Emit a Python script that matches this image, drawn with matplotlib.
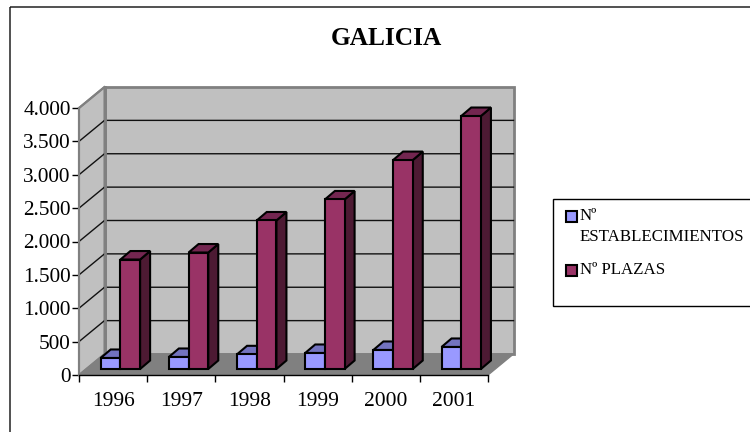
import matplotlib
matplotlib.use("Agg")
import matplotlib.pyplot as plt
from matplotlib.patches import Polygon, Rectangle

years = ["1996", "1997", "1998", "1999", "2000", "2001"]
establecimientos = [165, 180, 220, 240, 285, 330]
plazas = [1640, 1745, 2225, 2540, 3130, 3790]
ytick_labels = ["0", "500", "1.000", "1.500", "2.000", "2.500", "3.000", "3.500", "4.000"]
yticks = [0, 500, 1000, 1500, 2000, 2500, 3000, 3500, 4000]

W, H = 750, 432
plt.rcParams["font.family"] = ["Liberation Serif", "DejaVu Serif"]
fig = plt.figure(figsize=(W / 100, H / 100), dpi=100, facecolor="white")


def px_rect(l, t, r, b):
    return [l / W, 1 - b / H, (r - l) / W, (b - t) / H]


# overlay in pixel coordinates for chart-area frame and legend box
ov = fig.add_axes([0, 0, 1, 1], zorder=0)
ov.set_xlim(0, W)
ov.set_ylim(H, 0)
ov.axis("off")
ov.add_patch(Rectangle((9.5, 6.5), 760, 440, fill=False, ec="#222222", lw=1.1, clip_on=True))

# front plane of the pseudo-3D plot
L, T, R, B = 79, 108, 488, 375
ax = fig.add_axes(px_rect(L, T, R, B), zorder=1)
ax.set_xlim(0, 6)
ax.set_ylim(0, 4000)
ax.patch.set_alpha(0)
for s in ["top", "right", "left"]:
    ax.spines[s].set_visible(False)
ax.spines["bottom"].set_color("black")
ax.spines["bottom"].set_linewidth(1.0)

ux = 6 / (R - L)      # data units per pixel
uy = 4000 / (B - T)
DX, DY = 25.5 * ux, 21 * uy   # wall depth
BDX, BDY = 10 * ux, 8.5 * uy  # bar depth
OX, OY = 7.5 * ux, 6 * uy     # bar offset from the front plane
BW = 19.7 * ux

GRAY, WALL, FLOOR = "#C0C0C0", "#C0C0C0", "#808080"
EDGE = "#808080"


def poly(pts, fc, ec, lw=1.0, z=2):
    ax.add_patch(Polygon(pts, closed=True, fc=fc, ec=ec, lw=lw, zorder=z, clip_on=False, joinstyle="miter"))


# walls and floor
poly([(DX, DY), (6 + DX, DY), (6 + DX, 4000 + DY), (DX, 4000 + DY)], GRAY, EDGE, 2.0, 1)
poly([(0, 0), (DX, DY), (DX, 4000 + DY), (0, 4000)], WALL, EDGE, 1.5, 1)
poly([(0, 0), (6, 0), (6 + DX, DY), (DX, DY)], FLOOR, FLOOR, 1.0, 1)
for v in yticks[1:-1]:
    ax.plot([0, DX, 6 + DX], [v, v + DY, v + DY], color="#111111", lw=1.0, zorder=1.5, clip_on=False)
ax.plot([0, DX], [4000, 4000 + DY], color=EDGE, lw=1.5, zorder=1.5, clip_on=False)
ax.plot([0, 0], [0, 4000], color=EDGE, lw=1.5, zorder=1.6, clip_on=False)
ax.plot([DX, DX], [DY, 4000 + DY], color=EDGE, lw=2, zorder=1.6, clip_on=False)


def bar3d(x0, v, front, top, side, z):
    y0 = OY
    x1 = x0 + BW
    y1 = y0 + v
    poly([(x1, y0), (x1 + BDX, y0 + BDY), (x1 + BDX, y1 + BDY), (x1, y1)], side, "black", 1.5, z)
    poly([(x0, y1), (x1, y1), (x1 + BDX, y1 + BDY), (x0 + BDX, y1 + BDY)], top, "black", 1.5, z)
    poly([(x0, y0), (x1, y0), (x1, y1), (x0, y1)], front, "black", 1.5, z)


BLUE = ("#9999FF", "#7373BF", "#4D4D80")
PURP = ("#993366", "#732650", "#4D1A33")
for i, (a, b) in enumerate(zip(establecimientos, plazas)):
    xa = i + 21.7 * ux
    bar3d(xa, a, *BLUE, 3 + i * 0.1)
    bar3d(xa + BW, b, *PURP, 3.05 + i * 0.1)

ax.set_xticks(range(7))
ax.set_xticklabels([""] * 7)
ax.tick_params(axis="x", length=5, width=1, color="black")
ax.set_yticks(yticks)
ax.set_yticklabels(ytick_labels, fontsize=15.3)
ax.tick_params(axis="y", length=5, width=1, color="black", pad=1)
for i, y in enumerate(years):
    ax.text(i + 0.5, -0.065, y, ha="center", va="top", fontsize=15.5, color="black",
            transform=ax.get_xaxis_transform(), clip_on=False)

ov.text(386, 38.5, "GALICIA", ha="center", va="center", fontsize=18.3, fontweight="bold")

# legend drawn by hand to reproduce its wrapped label and cropped box
ov.add_patch(Rectangle((553, 199), 205, 107, fc="white", ec="black", lw=1, clip_on=True))
ov.add_patch(Rectangle((565.5, 210.5), 11, 11, fc="#9999FF", ec="black", lw=1.5))
ov.add_patch(Rectangle((565.5, 264.5), 11, 11, fc="#993366", ec="black", lw=1.5))
ov.text(580, 216, "Nº", fontsize=12.2, va="center", ha="left")
ov.text(580, 237, "ESTABLECIMIENTOS", fontsize=12.2, va="center", ha="left")
ov.text(580, 269.5, "Nº PLAZAS", fontsize=12.2, va="center", ha="left")

fig.savefig("out.png", dpi=100)
